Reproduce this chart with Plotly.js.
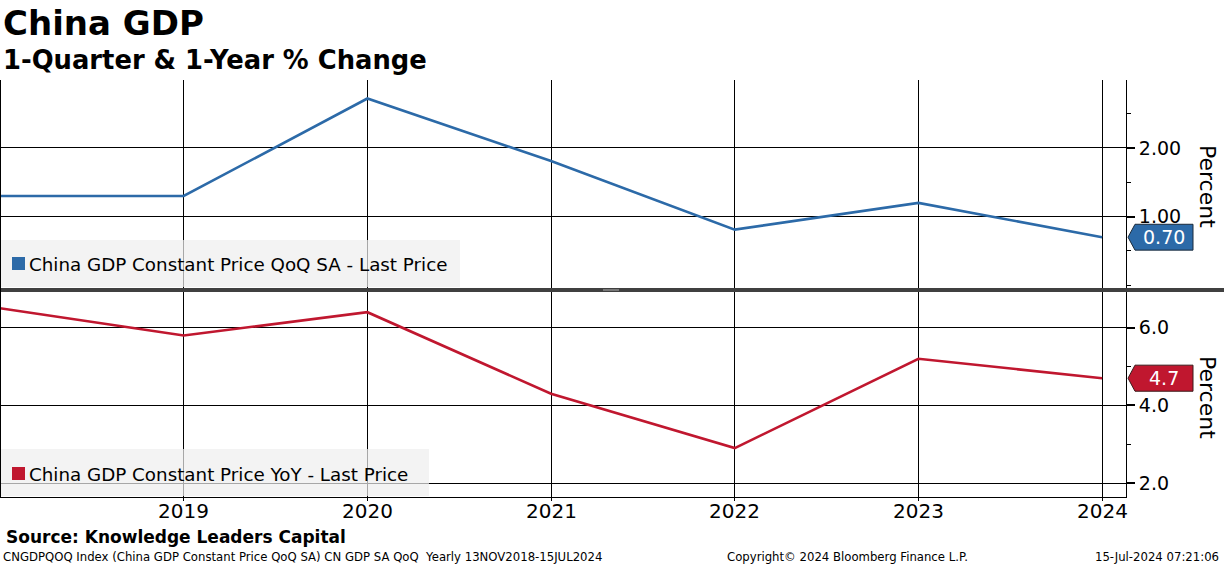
<!DOCTYPE html>
<html>
<head>
<meta charset="utf-8">
<script src="https://cdn.plot.ly/plotly-3.0.1.min.js"></script>
<style>
  html, body { margin: 0; padding: 0; background: #ffffff; }
  #chart { width: 1224px; height: 566px; }
</style>
</head>
<body>
<div id="chart"></div>
<script>
// ---- Data ----
const years = [2018, 2019, 2020, 2021, 2022, 2023, 2024];
const qoqValues = [1.30, 1.30, 2.72, 1.81, 0.81, 1.20, 0.70];
const yoyValues = [6.5, 5.8, 6.4, 4.3, 2.9, 5.2, 4.7];
const xTickYears = [2019, 2020, 2021, 2022, 2023, 2024];
const xTickLabels = ['2019', '2020', '2021', '2022', '2023', '2024'];
const qoqTickVals = [1, 2];
const yoyTickVals = [2, 4, 6];
const qoqName = 'China GDP Constant Price QoQ SA - Last Price';
const yoyName = 'China GDP Constant Price YoY - Last Price';
const titleText = 'China GDP';
const subtitleText = '1-Quarter &amp; 1-Year % Change';
const sourceText = 'Source: Knowledge Leaders Capital';
const footerLeft = 'CNGDPQOQ Index (China GDP Constant Price QoQ SA) CN GDP SA QoQ&nbsp;&nbsp;Yearly 13NOV2018-15JUL2024';
const footerMid = 'Copyright\u00A9 2024 Bloomberg Finance L.P.';
const footerRight = '15-Jul-2024 07:21:06';

// ---- Style ----
const BLUE = '#2c6aa8';
const RED = '#c0172f';
const FONT = 'DejaVu Sans, Verdana, sans-serif';

// pixel helpers (plot area: x 0..1126, y 80..497)
const W = 1126, T = 80, B = 497, H = B - T;
const px = x => x / W;
const py = y => (B - y) / H;

const traces = [
  { x: years, y: qoqValues, xaxis: 'x2', yaxis: 'y2', type: 'scatter', mode: 'lines',
    line: { color: BLUE, width: 2.6 }, name: qoqName, showlegend: false, hoverinfo: 'skip' },
  { x: years, y: yoyValues, xaxis: 'x', yaxis: 'y', type: 'scatter', mode: 'lines',
    line: { color: RED, width: 2.6 }, name: yoyName, showlegend: false, hoverinfo: 'skip' }
];

const lastQ = qoqValues[qoqValues.length - 1];
const lastY = yoyValues[yoyValues.length - 1];

function tagPath(v, h) {
  const xt = px(1128), xb = px(1135), xe = px(1193);
  return `M ${xt},${v} L ${xb},${v + h} L ${xe},${v + h} L ${xe},${v - h} L ${xb},${v - h} Z`;
}

const shapes = [
  // legend boxes
  { type: 'rect', xref: 'paper', yref: 'paper', x0: 0, x1: px(460), y0: py(287), y1: py(240),
    fillcolor: 'rgba(238,238,238,0.7)', line: { width: 0 }, layer: 'above' },
  { type: 'rect', xref: 'paper', yref: 'paper', x0: 0, x1: px(429), y0: py(496), y1: py(449),
    fillcolor: 'rgba(238,238,238,0.7)', line: { width: 0 }, layer: 'above' },
  // legend squares
  { type: 'rect', xref: 'paper', yref: 'paper', x0: px(12), x1: px(25), y0: py(270), y1: py(257),
    fillcolor: BLUE, line: { width: 0 }, layer: 'above' },
  { type: 'rect', xref: 'paper', yref: 'paper', x0: px(12), x1: px(25), y0: py(480), y1: py(467),
    fillcolor: RED, line: { width: 0 }, layer: 'above' },
  // separator between panels
  { type: 'rect', xref: 'paper', yref: 'paper', x0: 0, x1: 1224 / W, y0: py(292), y1: py(288),
    fillcolor: '#404040', line: { width: 0 }, layer: 'above' },
  { type: 'rect', xref: 'paper', yref: 'paper', x0: px(603), x1: px(619), y0: py(290.5), y1: py(289.5),
    fillcolor: '#b0b0b0', line: { width: 0 }, layer: 'above' },
  // left border
  { type: 'line', xref: 'paper', yref: 'paper', x0: 0, x1: 0, y0: 0, y1: 1,
    line: { color: '#000', width: 2 }, layer: 'above' },
  // last value tags
  { type: 'path', xref: 'paper', yref: 'y2', path: tagPath(lastQ, 13 / 69),
    fillcolor: BLUE, line: { color: '#1b2a3a', width: 1 }, layer: 'above' },
  { type: 'path', xref: 'paper', yref: 'y', path: tagPath(lastY, 13 / 38.75),
    fillcolor: RED, line: { color: '#3a1b1b', width: 1 }, layer: 'above' }
];

const annotations = [
  { text: '<b>' + titleText + '</b>', xref: 'paper', yref: 'paper', x: px(1), y: py(23),
    xanchor: 'left', yanchor: 'middle', showarrow: false, font: { family: FONT, size: 34, color: '#000' } },
  { text: '<b>' + subtitleText + '</b>', xref: 'paper', yref: 'paper', x: px(1), y: py(60),
    xanchor: 'left', yanchor: 'middle', showarrow: false, font: { family: FONT, size: 25.8, color: '#000' } },
  { text: qoqName, xref: 'paper', yref: 'paper', x: px(27), y: py(264),
    xanchor: 'left', yanchor: 'middle', showarrow: false, font: { family: FONT, size: 18.3, color: '#000' } },
  { text: yoyName, xref: 'paper', yref: 'paper', x: px(27), y: py(474),
    xanchor: 'left', yanchor: 'middle', showarrow: false, font: { family: FONT, size: 18.3, color: '#000' } },
  { text: 'Percent', xref: 'paper', yref: 'paper', x: px(1208), y: py(186), textangle: 90,
    xanchor: 'center', yanchor: 'middle', showarrow: false, font: { family: FONT, size: 22, color: '#000' } },
  { text: 'Percent', xref: 'paper', yref: 'paper', x: px(1208), y: py(397), textangle: 90,
    xanchor: 'center', yanchor: 'middle', showarrow: false, font: { family: FONT, size: 22, color: '#000' } },
  { text: lastQ.toFixed(2), xref: 'paper', yref: 'y2', x: px(1164), y: lastQ,
    xanchor: 'center', yanchor: 'middle', showarrow: false, font: { family: FONT, size: 19, color: '#fff' } },
  { text: lastY.toFixed(1), xref: 'paper', yref: 'y', x: px(1164), y: lastY,
    xanchor: 'center', yanchor: 'middle', showarrow: false, font: { family: FONT, size: 19, color: '#fff' } },
  { text: '<b>' + sourceText + '</b>', xref: 'paper', yref: 'paper', x: px(4), y: py(537),
    xanchor: 'left', yanchor: 'middle', showarrow: false, font: { family: FONT, size: 17, color: '#000' } },
  { text: footerLeft, xref: 'paper', yref: 'paper', x: px(1), y: py(557),
    xanchor: 'left', yanchor: 'middle', showarrow: false, font: { family: FONT, size: 11.7, color: '#000' } },
  { text: footerMid, xref: 'paper', yref: 'paper', x: px(725), y: py(557),
    xanchor: 'left', yanchor: 'middle', showarrow: false, font: { family: FONT, size: 11.7, color: '#000' } },
  { text: footerRight, xref: 'paper', yref: 'paper', x: px(1221), y: py(557),
    xanchor: 'right', yanchor: 'middle', showarrow: false, font: { family: FONT, size: 11.7, color: '#000' } }
];

// x tick labels placed through the x scale, just below the bottom axis
xTickYears.forEach((yr, i) => {
  annotations.push({ text: xTickLabels[i], xref: 'x', yref: 'paper', x: yr, y: py(511),
    xanchor: 'center', yanchor: 'middle', showarrow: false, font: { family: FONT, size: 20, color: '#000' } });
});

const xRange = [2018, 2024.13];

const layout = {
  width: 1224, height: 566,
  margin: { l: 0, r: 98, t: 80, b: 69, pad: 0 },
  paper_bgcolor: '#ffffff', plot_bgcolor: '#ffffff',
  font: { family: FONT, color: '#000' },
  showlegend: false,
  xaxis: {
    anchor: 'y', domain: [0, 1], range: xRange, tickmode: 'array',
    tickvals: xTickYears, showticklabels: false,
    showgrid: true, gridcolor: '#000', gridwidth: 1, zeroline: false,
    showline: true, linecolor: '#000', linewidth: 1,
    ticks: 'outside', ticklen: 3, tickcolor: '#000'
  },
  xaxis2: {
    anchor: 'y2', matches: 'x', range: xRange, tickmode: 'array', tickvals: xTickYears,
    showticklabels: false, showgrid: true, gridcolor: '#000', gridwidth: 1, zeroline: false,
    showline: false, ticks: ''
  },
  yaxis: {
    anchor: 'x', domain: [0, py(292)], side: 'right', range: [1.64, 6.92],
    tickmode: 'array', tickvals: yoyTickVals, tickformat: '.1f',
    showgrid: true, gridcolor: '#000', gridwidth: 1, zeroline: false,
    showline: true, linecolor: '#000', linewidth: 1,
    ticks: 'outside', ticklen: 8, tickwidth: 2, tickcolor: '#000',
    minor: { tickmode: 'linear', tick0: 0, dtick: 1, ticks: 'outside', ticklen: 4, tickwidth: 1, tickcolor: '#000', showgrid: false },
    tickfont: { family: FONT, size: 19, color: '#000' }
  },
  yaxis2: {
    anchor: 'x2', domain: [py(288), 1], side: 'right', range: [-0.04, 2.99],
    tickmode: 'array', tickvals: qoqTickVals, tickformat: '.2f',
    showgrid: true, gridcolor: '#000', gridwidth: 1, zeroline: false,
    showline: true, linecolor: '#000', linewidth: 1,
    ticks: 'outside', ticklen: 8, tickwidth: 2, tickcolor: '#000',
    minor: { tickmode: 'linear', tick0: 0, dtick: 0.5, ticks: 'outside', ticklen: 4, tickwidth: 1, tickcolor: '#000', showgrid: false },
    tickfont: { family: FONT, size: 19, color: '#000' }
  },
  shapes: shapes,
  annotations: annotations
};

Plotly.newPlot('chart', traces, layout, { staticPlot: true, displayModeBar: false });
</script>
</body>
</html>
